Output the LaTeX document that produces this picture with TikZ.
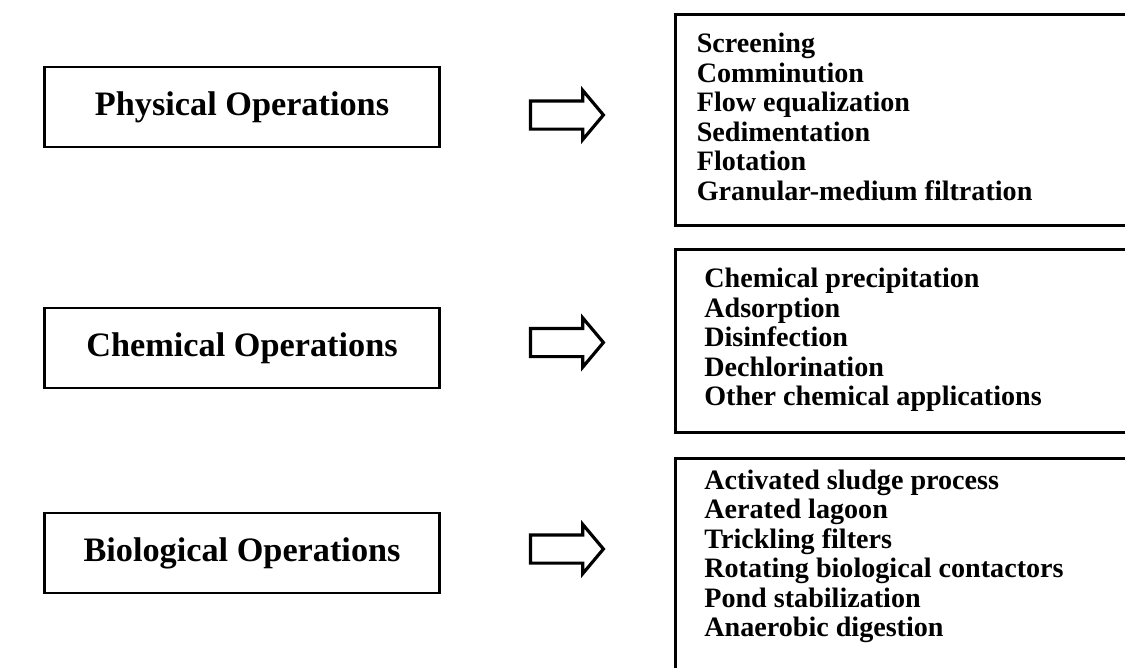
\documentclass[tikz,border=0pt]{standalone}
\usepackage{fontspec}
\setmainfont{Liberation Serif}
\usetikzlibrary{positioning,shapes.arrows}

\begin{document}
\begin{tikzpicture}[
  every node/.style={font=\bfseries},
  opbox/.style={draw, line width=1.5pt, minimum width=7.9cm, minimum height=1.6cm,
    font=\fontsize{19.5}{23}\selectfont\bfseries},
  listbox/.style={draw, line width=1.5pt, anchor=north west, minimum width=10cm},
  listtext/.style={anchor=north west, inner sep=0pt, align=left,
    font=\fontsize{16}{16.8}\selectfont\bfseries},
  blockarrow/.style={single arrow, draw, line width=1.8pt, inner sep=0pt,
    text height=0.25cm, text depth=0.25cm, minimum height=1.46cm,
    single arrow head extend=0.21cm, single arrow tip angle=100}
]
\clip (0,0) rectangle (22.5,-13.34);

% Operation groups
\node[opbox] (phy) at (4.84,-2.14) {Physical Operations};
\node[opbox] (chem) at (4.84,-6.96) {Chemical Operations};
\node[opbox] (bio) at (4.84,-11.06) {Biological Operations};

% Arrows
\node[blockarrow] (phyarr) at (11.22,-2.3) {};
\node[blockarrow] (chemarr) at (11.22,-6.85) {};
\node[blockarrow] (bioarr) at (11.22,-10.98) {};

% Lists of unit operations
\node[listbox, minimum height=4.22cm] (phybox) at (13.48,-0.26) {};
\node[listtext, below right=0.4cm and 0.45cm of phybox.north west] (phylist)
  {Screening\\Comminution\\Flow equalization\\Sedimentation\\Flotation\\Granular-medium filtration};

\node[listbox, minimum height=3.66cm] (chembox) at (13.48,-4.96) {};
\node[listtext, below right=0.4cm and 0.6cm of chembox.north west] (chemlist)
  {Chemical precipitation\\Adsorption\\Disinfection\\Dechlorination\\Other chemical applications};

\node[listbox, minimum height=5cm] (biobox) at (13.48,-9.14) {};
\node[listtext, below right=0.25cm and 0.6cm of biobox.north west] (biolist)
  {Activated sludge process\\Aerated lagoon\\Trickling filters\\Rotating biological contactors\\Pond stabilization\\Anaerobic digestion};

\end{tikzpicture}
\end{document}
